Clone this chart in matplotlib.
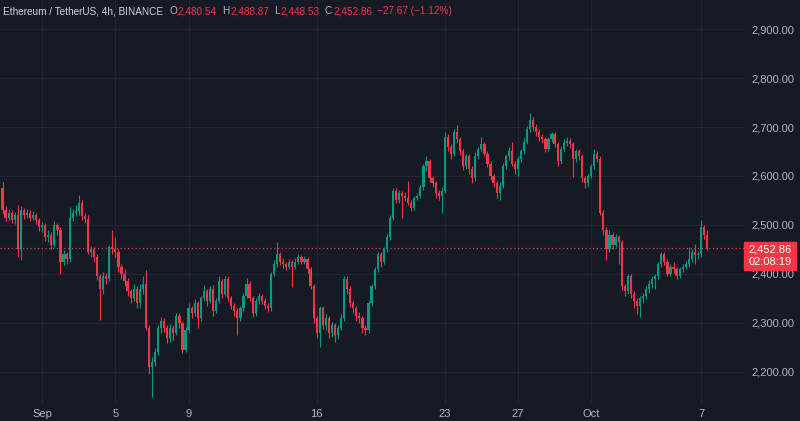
import matplotlib
matplotlib.use('Agg')
import matplotlib.pyplot as plt
from matplotlib.patches import Rectangle
import numpy as np
import pandas as pd

plt.rcParams['font.family'] = ['Liberation Sans', 'DejaVu Sans']

#------------------------------------------
# ETHUSDT 4h candles
#------------------------------------------
first_open = 2575

closes = [2530, 2515, 2525, 2510, 2520, 2450, 2530, 2520, 2525, 2515,
          2520, 2510, 2495, 2500, 2475, 2480, 2460, 2500, 2490, 2425,
          2440, 2430, 2515, 2525, 2528, 2545, 2518, 2512, 2445, 2450,
          2435, 2395, 2370, 2395, 2390, 2455, 2450, 2445, 2415, 2400,
          2385, 2365, 2350, 2370, 2340, 2370, 2380, 2290, 2210, 2220,
          2240, 2290, 2305, 2290, 2270, 2290, 2280, 2315, 2300, 2245,
          2285, 2330, 2320, 2340, 2310, 2350, 2365, 2345, 2370, 2325,
          2345, 2385, 2360, 2390, 2350, 2335, 2325, 2310, 2330, 2355,
          2380, 2350, 2320, 2345, 2355, 2345, 2335, 2330, 2400, 2420,
          2440, 2425, 2420, 2415, 2425, 2415, 2425, 2435, 2425, 2430,
          2410, 2375, 2310, 2280, 2330, 2295, 2310, 2280, 2295, 2275,
          2290, 2310, 2390, 2370, 2340, 2330, 2315, 2310, 2290, 2285,
          2340, 2375, 2410, 2440, 2425, 2450, 2475, 2515, 2570, 2550,
          2565, 2560, 2555, 2545, 2535, 2555, 2560, 2578, 2620, 2630,
          2595, 2585, 2565, 2560, 2570, 2680, 2660, 2645, 2690, 2675,
          2650, 2620, 2640, 2615, 2595, 2640, 2655, 2665, 2645, 2625,
          2600, 2585, 2565, 2580, 2620, 2640, 2650, 2625, 2615, 2635,
          2650, 2670, 2695, 2715, 2700, 2690, 2680, 2675, 2655, 2675,
          2685, 2665, 2630, 2655, 2668, 2672, 2665, 2635, 2650, 2640,
          2595, 2585, 2600, 2620, 2645, 2635, 2525, 2490, 2450, 2480,
          2460, 2475, 2465, 2375, 2365, 2395, 2360, 2345, 2335, 2350,
          2355, 2370, 2380, 2390, 2395, 2420, 2440, 2425, 2400, 2415,
          2410, 2395, 2410, 2415, 2420, 2430, 2445, 2438, 2440, 2495,
          2480.54, 2452.86]

highs = [2588, 2538, 2532, 2530, 2526, 2540, 2538, 2535, 2532, 2530,
         2528, 2524, 2515, 2506, 2505, 2490, 2486, 2508, 2505, 2495,
         2448, 2445, 2537, 2532, 2540, 2561, 2550, 2524, 2520, 2458,
         2455, 2440, 2400, 2405, 2402, 2460, 2490, 2475, 2450, 2420,
         2410, 2392, 2370, 2380, 2375, 2380, 2395, 2408, 2295, 2230,
         2248, 2295, 2312, 2310, 2295, 2298, 2295, 2320, 2320, 2305,
         2292, 2340, 2335, 2348, 2345, 2355, 2378, 2370, 2375, 2378,
         2350, 2395, 2390, 2396, 2395, 2355, 2340, 2330, 2335, 2362,
         2392, 2385, 2355, 2352, 2362, 2360, 2350, 2340, 2405, 2428,
         2465, 2445, 2432, 2425, 2430, 2428, 2432, 2440, 2438, 2436,
         2434, 2415, 2380, 2315, 2335, 2335, 2318, 2315, 2302, 2300,
         2295, 2318, 2395, 2396, 2375, 2345, 2335, 2322, 2315, 2295,
         2345, 2380, 2415, 2445, 2445, 2456, 2482, 2520, 2575, 2575,
         2572, 2570, 2568, 2590, 2552, 2560, 2566, 2582, 2625, 2640,
         2635, 2600, 2590, 2572, 2578, 2690, 2685, 2665, 2695, 2705,
         2680, 2655, 2645, 2645, 2620, 2648, 2660, 2680, 2670, 2650,
         2630, 2605, 2590, 2588, 2626, 2645, 2660, 2670, 2630, 2640,
         2655, 2678, 2702, 2728, 2720, 2706, 2695, 2685, 2680, 2680,
         2690, 2690, 2670, 2662, 2675, 2680, 2678, 2670, 2656, 2655,
         2645, 2600, 2605, 2625, 2655, 2652, 2640, 2530, 2495, 2490,
         2485, 2482, 2480, 2470, 2380, 2400, 2400, 2365, 2350, 2355,
         2362, 2375, 2388, 2395, 2400, 2425, 2445, 2445, 2430, 2420,
         2425, 2415, 2414, 2420, 2426, 2455, 2452, 2462, 2446, 2510,
         2500, 2488.87]

lows = [2522, 2508, 2510, 2505, 2502, 2435, 2428, 2512, 2515, 2508,
        2510, 2502, 2488, 2485, 2468, 2465, 2450, 2455, 2480, 2400,
        2418, 2420, 2425, 2508, 2518, 2520, 2510, 2505, 2440, 2435,
        2425, 2388, 2306, 2360, 2380, 2385, 2440, 2435, 2405, 2390,
        2375, 2355, 2340, 2345, 2330, 2330, 2360, 2285, 2195, 2149,
        2212, 2235, 2280, 2282, 2260, 2262, 2265, 2275, 2290, 2238,
        2240, 2280, 2310, 2315, 2290, 2305, 2345, 2335, 2340, 2315,
        2320, 2340, 2352, 2355, 2345, 2328, 2315, 2275, 2305, 2325,
        2350, 2345, 2312, 2315, 2338, 2338, 2328, 2322, 2325, 2395,
        2415, 2418, 2412, 2408, 2410, 2373, 2410, 2420, 2420, 2420,
        2402, 2370, 2300, 2270, 2252, 2288, 2285, 2270, 2272, 2262,
        2268, 2285, 2305, 2360, 2332, 2320, 2305, 2300, 2280, 2275,
        2280, 2335, 2370, 2405, 2415, 2420, 2445, 2470, 2510, 2545,
        2545, 2515, 2548, 2540, 2528, 2530, 2550, 2555, 2572, 2610,
        2588, 2578, 2555, 2552, 2525, 2565, 2652, 2635, 2640, 2668,
        2642, 2612, 2615, 2605, 2585, 2590, 2635, 2650, 2640, 2618,
        2592, 2578, 2555, 2550, 2575, 2615, 2632, 2620, 2605, 2600,
        2628, 2645, 2665, 2690, 2692, 2682, 2672, 2668, 2648, 2650,
        2670, 2660, 2620, 2625, 2650, 2662, 2658, 2598, 2628, 2632,
        2588, 2575, 2578, 2595, 2615, 2628, 2520, 2480, 2428, 2445,
        2452, 2455, 2420, 2368, 2355, 2360, 2352, 2330, 2318, 2312,
        2340, 2348, 2362, 2372, 2370, 2390, 2415, 2418, 2395, 2396,
        2402, 2390, 2392, 2405, 2410, 2415, 2425, 2420, 2430, 2435,
        2472, 2448.53]

opens = [first_open] + closes[:-1]

# candle times, 4h bars ending on Oct 7 08:00
dates = pd.date_range('2024-08-29 20:00', periods=len(closes), freq='4h')
tick_dates = ['2024-09-01', '2024-09-05', '2024-09-09', '2024-09-16',
              '2024-09-23', '2024-09-27', '2024-10-01', '2024-10-07']
tick_labels = ['Sep', '5', '9', '16', '23', '27', 'Oct', '7']
price_ticks = [2200, 2300, 2400, 2500, 2600, 2700, 2800, 2900]

title = 'Ethereum / TetherUS, 4h, BINANCE'
change_text = '\u221227.67 (\u22121.12%)'
countdown = '02:08:19'

df = pd.DataFrame({'open': opens, 'high': highs, 'low': lows, 'close': closes}, index=dates)

#------------------------------------------
# Colours
#------------------------------------------
bg = '#161a25'
grid = '#232632'
txt = '#b2b5be'
up = '#089981'
down = '#f23645'

fig = plt.figure(figsize=(8, 4.21), dpi=100, facecolor=bg)
ax = fig.add_axes([0, 18 / 421, 744 / 800, 403 / 421], facecolor=bg)

x = np.arange(len(df))
is_up = (df['close'] >= df['open']).values
colors = np.where(is_up, up, down)

# wicks
ax.vlines(x, df['low'], df['high'], colors=colors, linewidth=0.8, zorder=2)
# bodies
body_bottom = np.minimum(df['open'], df['close'])
body_height = np.maximum(np.abs(df['close'] - df['open']), 1.5)
ax.bar(x, body_height, bottom=body_bottom, width=0.72, color=colors, linewidth=0, zorder=3)

# last price line
last = df['close'].iloc[-1]
ax.axhline(last, color=down, linestyle=(0, (1, 2)), linewidth=0.9, zorder=1)

ax.set_xlim(-0.82, 243.1)
ax.set_ylim(2136.7, 2959.2)

tick_pos = [df.index.get_loc(pd.Timestamp(d)) for d in tick_dates]
ax.set_xticks(tick_pos)
ax.set_xticklabels(tick_labels)
ax.set_yticks(price_ticks)
ax.set_yticklabels([f'{p:,.2f}' for p in price_ticks])
ax.yaxis.tick_right()
ax.tick_params(axis='y', length=0, pad=5.5, labelsize=8, colors=txt)
ax.tick_params(axis='x', length=0, pad=4, labelsize=8, colors=txt)
ax.grid(True, color=grid, linewidth=0.8, zorder=0)
ax.set_axisbelow(True)
for s in ax.spines.values():
    s.set_visible(False)

#------------------------------------------
# Header legend, laid out left to right
#------------------------------------------
hy = 1 - 11 / 421
renderer = fig.canvas.get_renderer()
parts = [(title, '#d1d4dc', 6),
         ('O', txt, 1), (f"{df['open'].iloc[-1]:,.2f}", down, 5),
         ('H', txt, 1), (f"{df['high'].iloc[-1]:,.2f}", down, 5),
         ('L', txt, 1), (f"{df['low'].iloc[-1]:,.2f}", down, 5),
         ('C', txt, 1), (f"{last:,.2f}", down, 5),
         (change_text, down, 0)]
px = 3
for s, c, gap in parts:
    t = fig.text(px / 800, hy, s, color=c, fontsize=7.2, va='center')
    px += t.get_window_extent(renderer).width + gap

#------------------------------------------
# Price label on the right axis
#------------------------------------------
fig.add_artist(Rectangle((744 / 800, 1 - 270 / 421), 52 / 800, 28 / 421,
                         transform=fig.transFigure, color=down, zorder=5))
fig.text(770 / 800, 1 - 249 / 421, f'{last:,.2f}', color='white', fontsize=8,
         ha='center', va='center', zorder=6)
fig.text(770 / 800, 1 - 262 / 421, countdown, color='white', fontsize=8,
         ha='center', va='center', zorder=6)

fig.savefig('out.png', dpi=100, facecolor=bg)
